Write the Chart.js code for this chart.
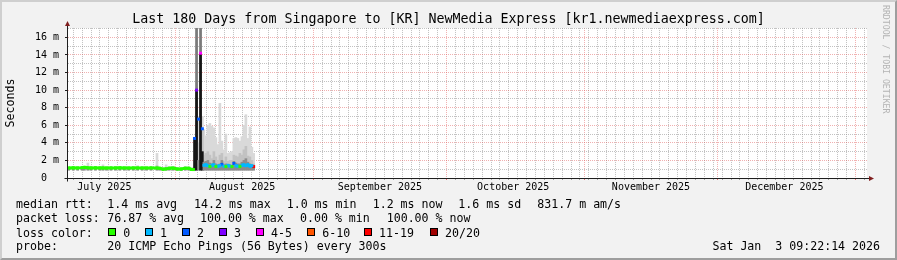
<!DOCTYPE html>
<html>
<head>
<meta charset="utf-8">
<script src="https://cdn.jsdelivr.net/npm/chart.js@4/dist/chart.umd.min.js"></script>
<style>
  body { margin:0; background:#fff; }
  #wrap { position:relative; width:897px; height:260px; background:#f2f2f2; font-family:"DejaVu Sans Mono", monospace; overflow:hidden; }
  #frame { position:absolute; left:0; top:0; width:897px; height:260px; box-sizing:border-box; border-style:solid; border-width:2px; border-color:#cfcfcf #9e9e9e #9e9e9e #cfcfcf; }
  #c { position:absolute; left:0; top:0; }
  .t { position:absolute; font-size:11.6px; line-height:14px; white-space:pre; color:#000; }
  .box { position:absolute; top:228px; width:6px; height:6px; border:1px solid #000; }
  #wm { position:absolute; left:881px; top:5px; font-size:8.2px; line-height:10px; writing-mode:vertical-rl; color:#b4b4b4; white-space:pre; }
</style>
</head>
<body>
<div id="wrap">
  <div id="frame"></div>
  <canvas id="c" width="897" height="260"></canvas>
  <div id="wm">RRDTOOL / TOBI OETIKER</div>
  <div id="foot"></div>
</div>
<script>
    // days are counted from 1 Jul 2025 00:00
    const X_MIN = 6.6, X_MAX = 186.6;
    const MONTH_STARTS = [31, 62, 92, 123, 153, 184];
    const MONTH_MIDS = [15, 46, 77, 107, 138, 168];
    const MONTH_LABELS = ['July 2025', 'August 2025', 'September 2025', 'October 2025', 'November 2025', 'December 2025'];

    const LOSS_LABELS = ['0', '1', '2', '3', '4-5', '6-10', '11-19', '20/20'];
    const LOSS_COLORS = ['#26ff00', '#00b8ff', '#0059ff', '#7e00ff', '#ff00ff', '#ff5500', '#ff0000', '#a00000'];

    // samples (ms): median rtt, loss class, smoke top / mid / dense
    const days = [7, 8, 9, 10, 10.5, 11.3, 12, 13, 14, 14.7, 15.5, 16.5, 17.5, 18.5, 19.5, 20.5, 21.5, 22.5, 23.5, 24.5, 25.5,
        26.85, 27.5, 28.2, 28.9, 29.6, 30.5, 31.4, 32.3, 33.2, 34, 34.6, 35.05,
        35.3, 35.75, 36.2, 36.65, 37.05,
        37.4, 37.85, 38.3, 38.75, 39.2, 39.65, 40.1, 40.55, 41, 41.45, 41.9, 42.35, 42.8, 43.25, 43.7, 44.15,
        44.6, 45.05, 45.5, 45.95, 46.4, 46.85, 47.3, 47.75, 48.2, 48.6];
    const median = [1.15, 1.16, 1.15, 1.18, 1.21, 1.16, 1.15, 1.16, 1.15, 1.15, 1.14, 1.15, 1.15, 1.16, 1.15, 1.14, 1.15, 1.15, 1.14, 1.14, 1.15,
        1.14, 1.1, 1.01, 1.04, 1.12, 1.13, 1.03, 1.02, 1.12, 1.11, 0.97, 0.96,
        4.5, 10.0, 6.7, 14.2, 5.6,
        1.45, 1.5, 1.4, 1.3, 1.45, 1.5, 1.3, 1.35, 1.4, 1.55, 1.35, 1.3, 1.45, 1.35, 1.3, 1.65,
        1.4, 1.35, 1.3, 1.45, 1.5, 1.4, 1.5, 1.35, 1.4, 1.3];
    const lossClass = [0, 0, 0, 0, 0, 0, 0, 0, 0, 0, 0, 0, 0, 0, 0, 0, 0, 0, 0, 0, 0,
        0, 0, 0, 0, 0, 0, 0, 0, 0, 0, 0, 0,
        2, 3, 2, 4, 2,
        1, 1, 1, 0, 1, 1, 0, 1, 1, 2, 1, 0, 1, 1, 0, 2,
        1, 1, 0, 1, 1, 1, 1, 1, 1, 6];
    const smokeMax = [1.25, 1.28, 1.25, 1.3, 1.32, 1.7, 1.35, 1.3, 1.28, 1.5, 1.25, 1.28, 1.3, 1.28, 1.25, 1.26, 1.3, 1.4, 1.28, 1.26, 1.3,
        2.8, 1.25, 1.2, 1.5, 1.28, 1.3, 1.2, 1.2, 1.3, 1.28, 1.15, 1.2,
        4.6, 17.1, 7.0, 17.1, 7.0,
        5.5, 4.8, 6.0, 6.2, 5.9, 5.7, 4.6, 3.8, 8.5, 4.2, 3.2, 5.0, 2.8, 2.9, 3.0, 4.5,
        4.6, 4.5, 4.2, 4.7, 6.0, 7.2, 4.5, 5.8, 3.5, 2.8];
    const smokeMid = [1.2, 1.2, 1.2, 1.22, 1.25, 1.3, 1.22, 1.2, 1.2, 1.25, 1.2, 1.2, 1.2, 1.2, 1.2, 1.2, 1.2, 1.22, 1.2, 1.2, 1.2,
        1.4, 1.18, 1.1, 1.2, 1.2, 1.2, 1.1, 1.1, 1.2, 1.2, 1.05, 1.05,
        4.6, 17.1, 4.0, 17.1, 5.6,
        2.6, 2.8, 3.0, 2.6, 2.2, 3.0, 2.4, 2.0, 2.6, 2.8, 1.9, 2.4, 1.9, 2.0, 2.0, 2.6,
        2.5, 2.4, 2.8, 2.6, 3.2, 3.6, 2.5, 2.4, 2.0, 1.6];
    const smokeDense = [1.15, 1.15, 1.15, 1.17, 1.2, 1.2, 1.16, 1.15, 1.15, 1.16, 1.15, 1.15, 1.15, 1.15, 1.15, 1.15, 1.15, 1.15, 1.15, 1.14, 1.15,
        1.2, 1.12, 1.05, 1.08, 1.14, 1.14, 1.05, 1.05, 1.14, 1.13, 1.0, 1.0,
        4.6, 10.0, 2.0, 14.2, 3.0,
        1.8, 1.9, 2.0, 1.7, 1.6, 2.0, 1.6, 1.5, 1.6, 2.0, 1.5, 1.6, 1.5, 1.5, 1.4, 1.9,
        1.7, 1.6, 1.6, 1.8, 2.0, 2.2, 1.8, 1.6, 1.5, 1.4];
    const SMOKE_FLOOR = 0.9;

    const FONT = "'DejaVu Sans Mono', monospace";
    const MINOR = 'rgba(143,143,143,0.55)';
    const MAJOR = 'rgba(222,79,79,0.45)';
    const NONE = 'rgba(0,0,0,0)';

    const chartBg = {
        id: 'chartBg',
        beforeDraw(chart) {
            const { ctx, chartArea: a } = chart;
            ctx.save();
            ctx.fillStyle = '#ffffff';
            ctx.fillRect(a.left, a.top, a.right - a.left, a.bottom - a.top);
            ctx.restore();
        }
    };

    const axisArrows = {
        id: 'axisArrows',
        afterDraw(chart) {
            const { ctx, chartArea: a } = chart;
            const x0 = Math.round(a.left) + 0.5, y0 = Math.round(a.bottom) + 0.5;
            ctx.save();
            ctx.strokeStyle = '#1f1f1f';
            ctx.lineWidth = 1;
            ctx.beginPath();
            ctx.moveTo(x0, y0 + 3); ctx.lineTo(x0, a.top - 3);
            ctx.moveTo(x0 - 3, y0); ctx.lineTo(a.right + 2, y0);
            ctx.stroke();
            ctx.fillStyle = '#801f1f';
            ctx.beginPath();
            ctx.moveTo(x0, a.top - 7); ctx.lineTo(x0 - 2.5, a.top - 2); ctx.lineTo(x0 + 2.5, a.top - 2); ctx.closePath();
            ctx.fill();
            ctx.beginPath();
            ctx.moveTo(a.right + 7, y0); ctx.lineTo(a.right + 2, y0 - 2.5); ctx.lineTo(a.right + 2, y0 + 2.5); ctx.closePath();
            ctx.fill();
            ctx.restore();
        }
    };

    function smokeSet(top, color, order) {
        return {
            type: 'bar', order: order, grouped: false, barThickness: 2, borderWidth: 0,
            backgroundColor: color,
            data: days.map((d, i) => ({ x: d, y: [SMOKE_FLOOR, top[i]] }))
        };
    }

    function lossSets() {
        return LOSS_COLORS.map((col, c) => ({
            type: 'line', order: 1, borderColor: col, backgroundColor: col, borderWidth: 3,
            pointStyle: 'rect', pointRadius: 2.1, pointBorderWidth: 0, tension: 0, spanGaps: false,
            data: days.map((d, i) => ({ x: d, y: lossClass[i] === c ? median[i] : null }))
        }));
    }

    function buildFooter() {
        const f = document.getElementById('foot');
        const put = (txt, x, y) => {
            const s = document.createElement('span');
            s.className = 't'; s.textContent = txt;
            s.style.left = x + 'px'; s.style.top = y + 'px';
            f.appendChild(s);
        };
        put('median rtt:', 16, 197.3);
        put('1.4 ms avg', 107.3, 197.3);
        put('14.2 ms max', 194, 197.3);
        put('1.0 ms min', 286.7, 197.3);
        put('1.2 ms now', 372.7, 197.3);
        put('1.6 ms sd', 458.3, 197.3);
        put('831.7 m am/s', 537.3, 197.3);

        put('packet loss:', 16, 211.3);
        put('76.87 % avg', 107.3, 211.3);
        put('100.00 % max', 200, 211.3);
        put('0.00 % min', 300, 211.3);
        put('100.00 % now', 386.7, 211.3);

        put('loss color:', 16, 225.7);
        const boxX = [108.3, 145, 182, 219, 256, 307.3, 364, 430];
        LOSS_LABELS.forEach((lab, i) => {
            const b = document.createElement('span');
            b.className = 'box'; b.style.left = boxX[i] + 'px'; b.style.background = LOSS_COLORS[i];
            f.appendChild(b);
            put(lab, boxX[i] + 15, 225.7);
        });

        put('probe:', 16, 239);
        put('20 ICMP Echo Pings (56 Bytes) every 300s', 107.3, 239);
        const d = document.createElement('span');
        d.className = 't'; d.textContent = 'Sat Jan  3 09:22:14 2026';
        d.style.right = '17px'; d.style.top = '239px';
        f.appendChild(d);
    }

    function setup() {
        Chart.defaults.font.family = FONT;
        Chart.defaults.color = '#000';
        buildFooter();

        new Chart(document.getElementById('c').getContext('2d'), {
            type: 'line',
            data: {
                datasets: [
                    smokeSet(smokeMax, '#d9d9d9', 10),
                    smokeSet(smokeMid, (c) => (c.raw && c.raw.y[1] > 8) ? '#7a7a7a' : '#c2c2c2', 9),
                    smokeSet(smokeDense, (c) => (c.raw && c.raw.y[1] > 2.5) ? '#151515' : '#8c8c8c', 8),
                    ...lossSets()
                ]
            },
            options: {
                responsive: false, animation: false, events: [],
                layout: { padding: 0 },
                plugins: {
                    legend: { display: false },
                    tooltip: { enabled: false },
                    title: {
                        display: true, color: '#000',
                        text: 'Last 180 Days from Singapore to [KR] NewMedia Express [kr1.newmediaexpress.com]',
                        font: { family: FONT, size: 13.3, weight: 'normal', lineHeight: 1.2 },
                        padding: { top: 12, bottom: 0 }
                    }
                },
                scales: {
                    x: {
                        type: 'linear', min: X_MIN, max: X_MAX, offset: false,
                        afterBuildTicks: (s) => {
                            const t = [];
                            for (let d = 8; d <= X_MAX; d += 2) t.push(d);
                            MONTH_STARTS.concat(MONTH_MIDS).forEach(m => { if (!t.includes(m)) t.push(m); });
                            t.sort((a, b) => a - b);
                            s.ticks = t.map(v => ({ value: v }));
                        },
                        afterFit: (s) => { s.height = 82; },
                        ticks: {
                            autoSkip: false, maxRotation: 0, minRotation: 0, padding: 1,
                            font: { family: FONT, size: 10 }, color: '#000',
                            callback: (v) => MONTH_MIDS.includes(v) ? MONTH_LABELS[MONTH_MIDS.indexOf(v)] : ''
                        },
                        grid: {
                            offset: false, lineWidth: 1, drawTicks: true, tickLength: 2,
                            color: (c) => MONTH_STARTS.includes(c.tick.value) ? MAJOR : (c.tick.value % 2 ? NONE : MINOR),
                            tickColor: (c) => MONTH_STARTS.includes(c.tick.value) ? 'rgba(222,79,79,0.8)' : (c.tick.value % 2 ? NONE : 'rgba(143,143,143,0.8)')
                        },
                        border: { display: true, color: '#1f1f1f', width: 1, dash: [1, 1] }
                    },
                    y: {
                        type: 'linear', min: 0, max: 17.07, position: 'left',
                        afterFit: (s) => { s.width = 67; },
                        ticks: {
                            stepSize: 1, includeBounds: false, autoSkip: false, padding: 6,
                            font: { family: FONT, size: 10 }, color: '#000',
                            callback: (v) => v % 2 ? '' : (v === 0 ? '0  ' : v + ' m')
                        },
                        grid: {
                            lineWidth: 1, drawTicks: true, tickLength: 2,
                            color: (c) => c.tick.value === 0 ? NONE : (c.tick.value % 2 ? MINOR : MAJOR),
                            tickColor: (c) => c.tick.value % 2 ? NONE : '#1f1f1f'
                        },
                        border: { display: true, color: '#1f1f1f', width: 1, dash: [1, 1] },
                        title: {
                            display: true, text: 'Seconds', color: '#000',
                            font: { family: FONT, size: 11.6 }, padding: { top: 4, bottom: 0 }
                        }
                    },
                    yRight: {
                        type: 'linear', position: 'right', min: 0, max: 1,
                        afterFit: (s) => { s.width = 30; },
                        ticks: { display: false },
                        grid: { display: false },
                        border: { display: false }
                    }
                }
            },
            plugins: [chartBg, axisArrows]
        });
    }

    document.addEventListener('DOMContentLoaded', setup);
</script>
</body>
</html>
